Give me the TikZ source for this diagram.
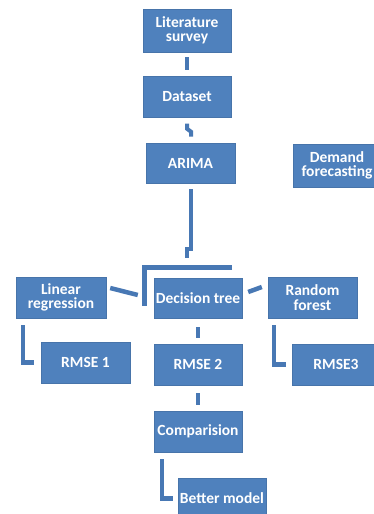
\documentclass[tikz,border=0pt]{standalone}
\usepackage{fontspec}
\setmainfont{Carlito}
\usepackage{tikz}
\usetikzlibrary{calc}
\definecolor{boxblue}{RGB}{79,129,189}
\definecolor{lineblue}{RGB}{72,120,180}

\begin{document}
\begin{tikzpicture}[x=1pt, y=-1pt,
    blockbox/.style={fill=boxblue, draw=boxblue!90!black, line width=0.4pt, text=white,
      minimum width=88pt, minimum height=41pt, inner sep=0pt, align=center,
      font=\fontsize{15.5}{14.5}\selectfont\bfseries},
    link/.style={draw=lineblue, line width=4.5pt}]
    \useasboundingbox (0,0) rectangle (374,514);
    % top chain
    \node[blockbox, minimum height=43pt] (lit) at (187,30.5) {Literature\\survey};
    \node[blockbox] (data) at (187,97) {Dataset};
    \node[blockbox, minimum width=89pt, minimum height=40pt] (arima) at (190.5,163) {ARIMA};
    \node[blockbox, minimum height=43pt] (demand) at (337,165.5) {Demand\\forecasting};
    % models
    \node[blockbox, minimum width=90pt] (lin) at (61,297.5) {Linear\\regression};
    \node[blockbox, minimum height=40pt] (dtree) at (198,298) {Decision tree};
    \node[blockbox, minimum width=89pt] (rforest) at (312.5,297.5) {Random\\forest};
    % errors
    \node[blockbox, minimum width=89pt] (rmse1) at (85.5,362.5) {RMSE 1};
    \node[blockbox] (rmse2) at (198,364.5) {RMSE 2};
    \node[blockbox] (rmse3) at (336,364.5) {RMSE3};
    % result
    \node[blockbox] (comp) at (198,431.5) {Comparision};
    \node[blockbox] (better) at (222,498.5) {Better model};
    % connectors
    \draw[link, line width=4pt] ($(lit.south)+(0,5)$) -- ($(data.north)+(0,-6)$);
    \draw[link, line width=4pt] ($(data.south)+(0,6)$) -- ++(0,5) -- ++(4,3) -- ++(0,5);
    \draw[link, line width=4pt] ($(arima.south)+(0,6)$) -- ++(0,60) -| ($(dtree.north)+(-11.5,-20)$);
    \draw[link, line width=5pt] ($(dtree.north east)+(-10,-10)$) -| ($(dtree.south west)+(-9,-12)$);
    \draw[link] ($(lin.east)+(4,-9.5)$) -- ($(dtree.west)+(-16,-3)$);
    \draw[link] ($(dtree.east)+(6,-6)$) -- ($(rforest.west)+(-6,-10.5)$);
    \draw[link] ($(lin.south west)+(7,7)$) |- ($(rmse1.west)+(-7,0)$);
    \draw[link] ($(dtree.south)+(0,9)$) -- ($(rmse2.north)+(0,-6)$);
    \draw[link] ($(rforest.south west)+(6,7)$) |- ($(rmse3.west)+(-6,0)$);
    \draw[link] ($(rmse2.south)+(0,8)$) -- ($(comp.north)+(0,-6)$);
    \draw[link] ($(comp.south west)+(8,7)$) |- ($(better.west)+(-5,0)$);
\end{tikzpicture}
\end{document}
